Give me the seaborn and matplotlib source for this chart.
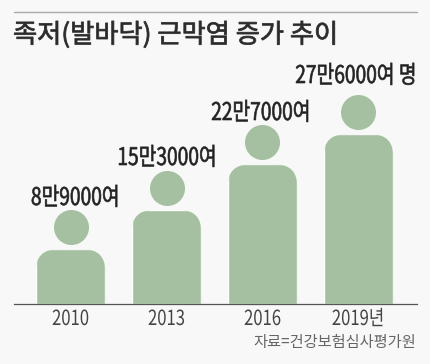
import matplotlib
matplotlib.use("Agg")
import matplotlib.pyplot as plt
import matplotlib.patheffects as pe
from matplotlib.lines import Line2D
from matplotlib.patches import FancyBboxPatch
from matplotlib.transforms import Affine2D, IdentityTransform, offset_copy
import pandas as pd
import seaborn as sns

## values in units of 10,000 people
years = ["2010", "2013", "2016", "2019년"]
patients = [8.9, 15.3, 22.7, 27.6]
value_labels = ["8만9000여", "15만3000여", "22만7000여", "27만6000여 명"]
title = "족저(발바닥) 근막염 증가 추이"
source = "자료=건강보험심사평가원"

green = "#a5c0a0"
bg = "#f8f8f8"

sns.set_theme(style="white")
plt.rcParams["font.family"] = ["Noto Sans CJK KR", "DejaVu Sans"]

W, H = 430, 364
fig = plt.figure(figsize=(W / 100, H / 100), dpi=100, facecolor=bg)
ax = fig.add_axes([14 / W, (H - 304) / H, 403 / W, 304 / H], facecolor="none")


## matplotlib can't do condensed type, so squeeze the glyph outlines sideways
## a thin stroke gives the medium weight the font doesn't have
class Squeeze(pe.AbstractPathEffect):
    def __init__(self, sx, x0, stroke=0.0):
        super().__init__()
        self.sx = sx
        self.x0 = x0
        self.stroke = stroke

    def draw_path(self, renderer, gc, tpath, affine, rgbFace=None):
        squash = Affine2D().translate(-self.x0, 0).scale(self.sx, 1).translate(self.x0, 0)
        gc0 = renderer.new_gc()
        gc0.copy_properties(gc)
        gc0.set_linewidth(self.stroke)
        renderer.draw_path(gc0, tpath, affine + squash, rgbFace)
        gc0.restore()


def squeezed(x_px, y_px, s, sx, ha="center", stroke=0.0, **kw):
    return fig.text(x_px / W, 1 - y_px / H, s, ha=ha, va="center",
                    path_effects=[Squeeze(sx, x_px, stroke)], **kw)


df = pd.DataFrame({"year": years, "patients": patients})
sns.barplot(data=df, x="year", y="patients", color=green, saturation=1, width=0.725, ax=ax)
ax.set_xlim(-0.589, 3.61)
ax.set_ylim(0, 304 / 6.15)
ax.set_xlabel("")
ax.set_ylabel("")
ax.set_yticks([])
ax.set_xticks([])
sns.despine(ax=ax, left=True)
ax.spines["bottom"].set_color("#555555")
ax.spines["bottom"].set_linewidth(0.9)

## round the shoulders of each bar
fig.canvas.draw()
for bar in ax.patches:
    box = bar.get_window_extent()
    clip = FancyBboxPatch((box.x0, box.y0 - 40), box.width, box.height + 40,
                          boxstyle="round,pad=0,rounding_size=22", transform=IdentityTransform())
    bar.set_clip_path(clip)

## heads sit a fixed distance above the shoulders
head_trans = offset_copy(ax.transData, fig=fig, y=22 * 0.72, units="points")
ax.scatter(range(len(years)), patients, s=(35 * 0.72) ** 2, color=green, linewidths=0,
           transform=head_trans, clip_on=False, zorder=3)

## labels, anchored on their right ends
label_right = [120, 217, 311, 417]
label_y = [198, 158, 113, 76]
for x, y, s in zip(label_right, label_y, value_labels):
    squeezed(x, y, s, 0.79, ha="right", stroke=0.45, fontsize=17.5, color="#222222")

tick_x = [70.5, 166.5, 262.5, 358]
for x, s in zip(tick_x, years):
    squeezed(x, 319, s, 0.80, fontsize=15, color="#444444")

fig.add_artist(Line2D([14 / W, 417 / W], [1 - 12 / H] * 2, color="#aaaaaa", lw=1.0))
squeezed(13, 35, title, 1.0, ha="left", stroke=0.55, fontsize=18.9, color="#2b2b2b")
fig.text(416 / W, 1 - 343 / H, source, ha="right", va="center", fontsize=11, color="#666666")

fig.savefig("out.png", dpi=100, facecolor=bg)
